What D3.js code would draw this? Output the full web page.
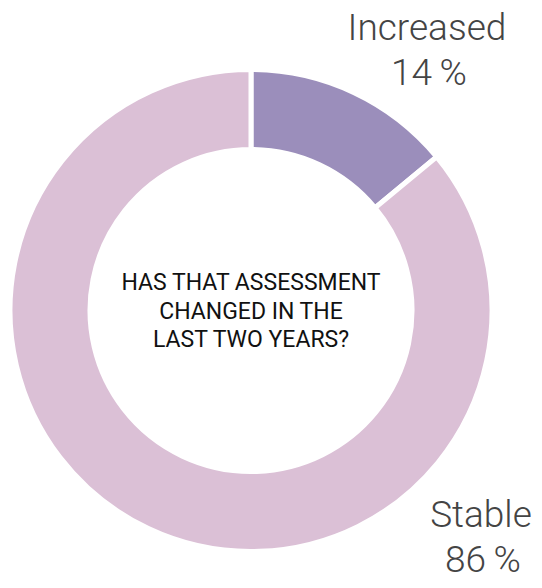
<!DOCTYPE html>
<html>
<head>
<meta charset="utf-8">
<script src="https://cdn.jsdelivr.net/npm/d3@7"></script>
<style>
  html, body { margin: 0; padding: 0; background: #fff; }
  svg { display: block; }
</style>
</head>
<body>
<svg id="chart" width="542" height="588"></svg>
<script>
// Share of respondents by change in assessment
const categories = ["Increased", "Stable"];
const values = [14, 86];
const colors = ["#9b8ebb", "#dbc0d6"];
const centerLines = ["HAS THAT ASSESSMENT", "CHANGED IN THE", "LAST TWO YEARS?"];

const svg = d3.select("#chart");
const cx = 251, cy = 310.5;
const outerR = 241, innerR = 161;

const data = categories.map((c, i) => ({ name: c, value: values[i], color: colors[i] }));

const pie = d3.pie().value(d => d.value).sort(null);
const arc = d3.arc().innerRadius(innerR).outerRadius(outerR);

const g = svg.append("g").attr("transform", `translate(${cx},${cy})`);

g.selectAll("path")
  .data(pie(data))
  .join("path")
  .attr("d", arc)
  .attr("fill", d => d.data.color)
  .attr("stroke", "#fff")
  .attr("stroke-width", 5)
  .attr("stroke-linejoin", "miter");

// Centre question
const ct = g.append("text")
  .attr("text-anchor", "middle")
  .attr("font-family", "Roboto, 'Liberation Sans', sans-serif")
  .attr("font-size", 23)
  .attr("fill", "#111");
centerLines.forEach((line, i) => {
  ct.append("tspan").attr("x", 0).attr("y", -20.5 + i * 28.5).text(line);
});

// Outside labels: name above, percentage below
const labelPos = [
  { x: 427, y: 40 },
  { x: 481, y: 527 }
];
data.forEach((d, i) => {
  const t = svg.append("text")
    .attr("text-anchor", "middle")
    .attr("font-family", "Roboto, 'Liberation Sans', sans-serif")
    .attr("font-weight", 300)
    .attr("font-size", 37)
    .attr("fill", "#444");
  t.append("tspan").attr("x", labelPos[i].x).attr("y", labelPos[i].y).text(d.name);
  t.append("tspan").attr("x", labelPos[i].x + 2).attr("y", labelPos[i].y + 45).text(d.value + "\u2009%");
});
</script>
</body>
</html>
